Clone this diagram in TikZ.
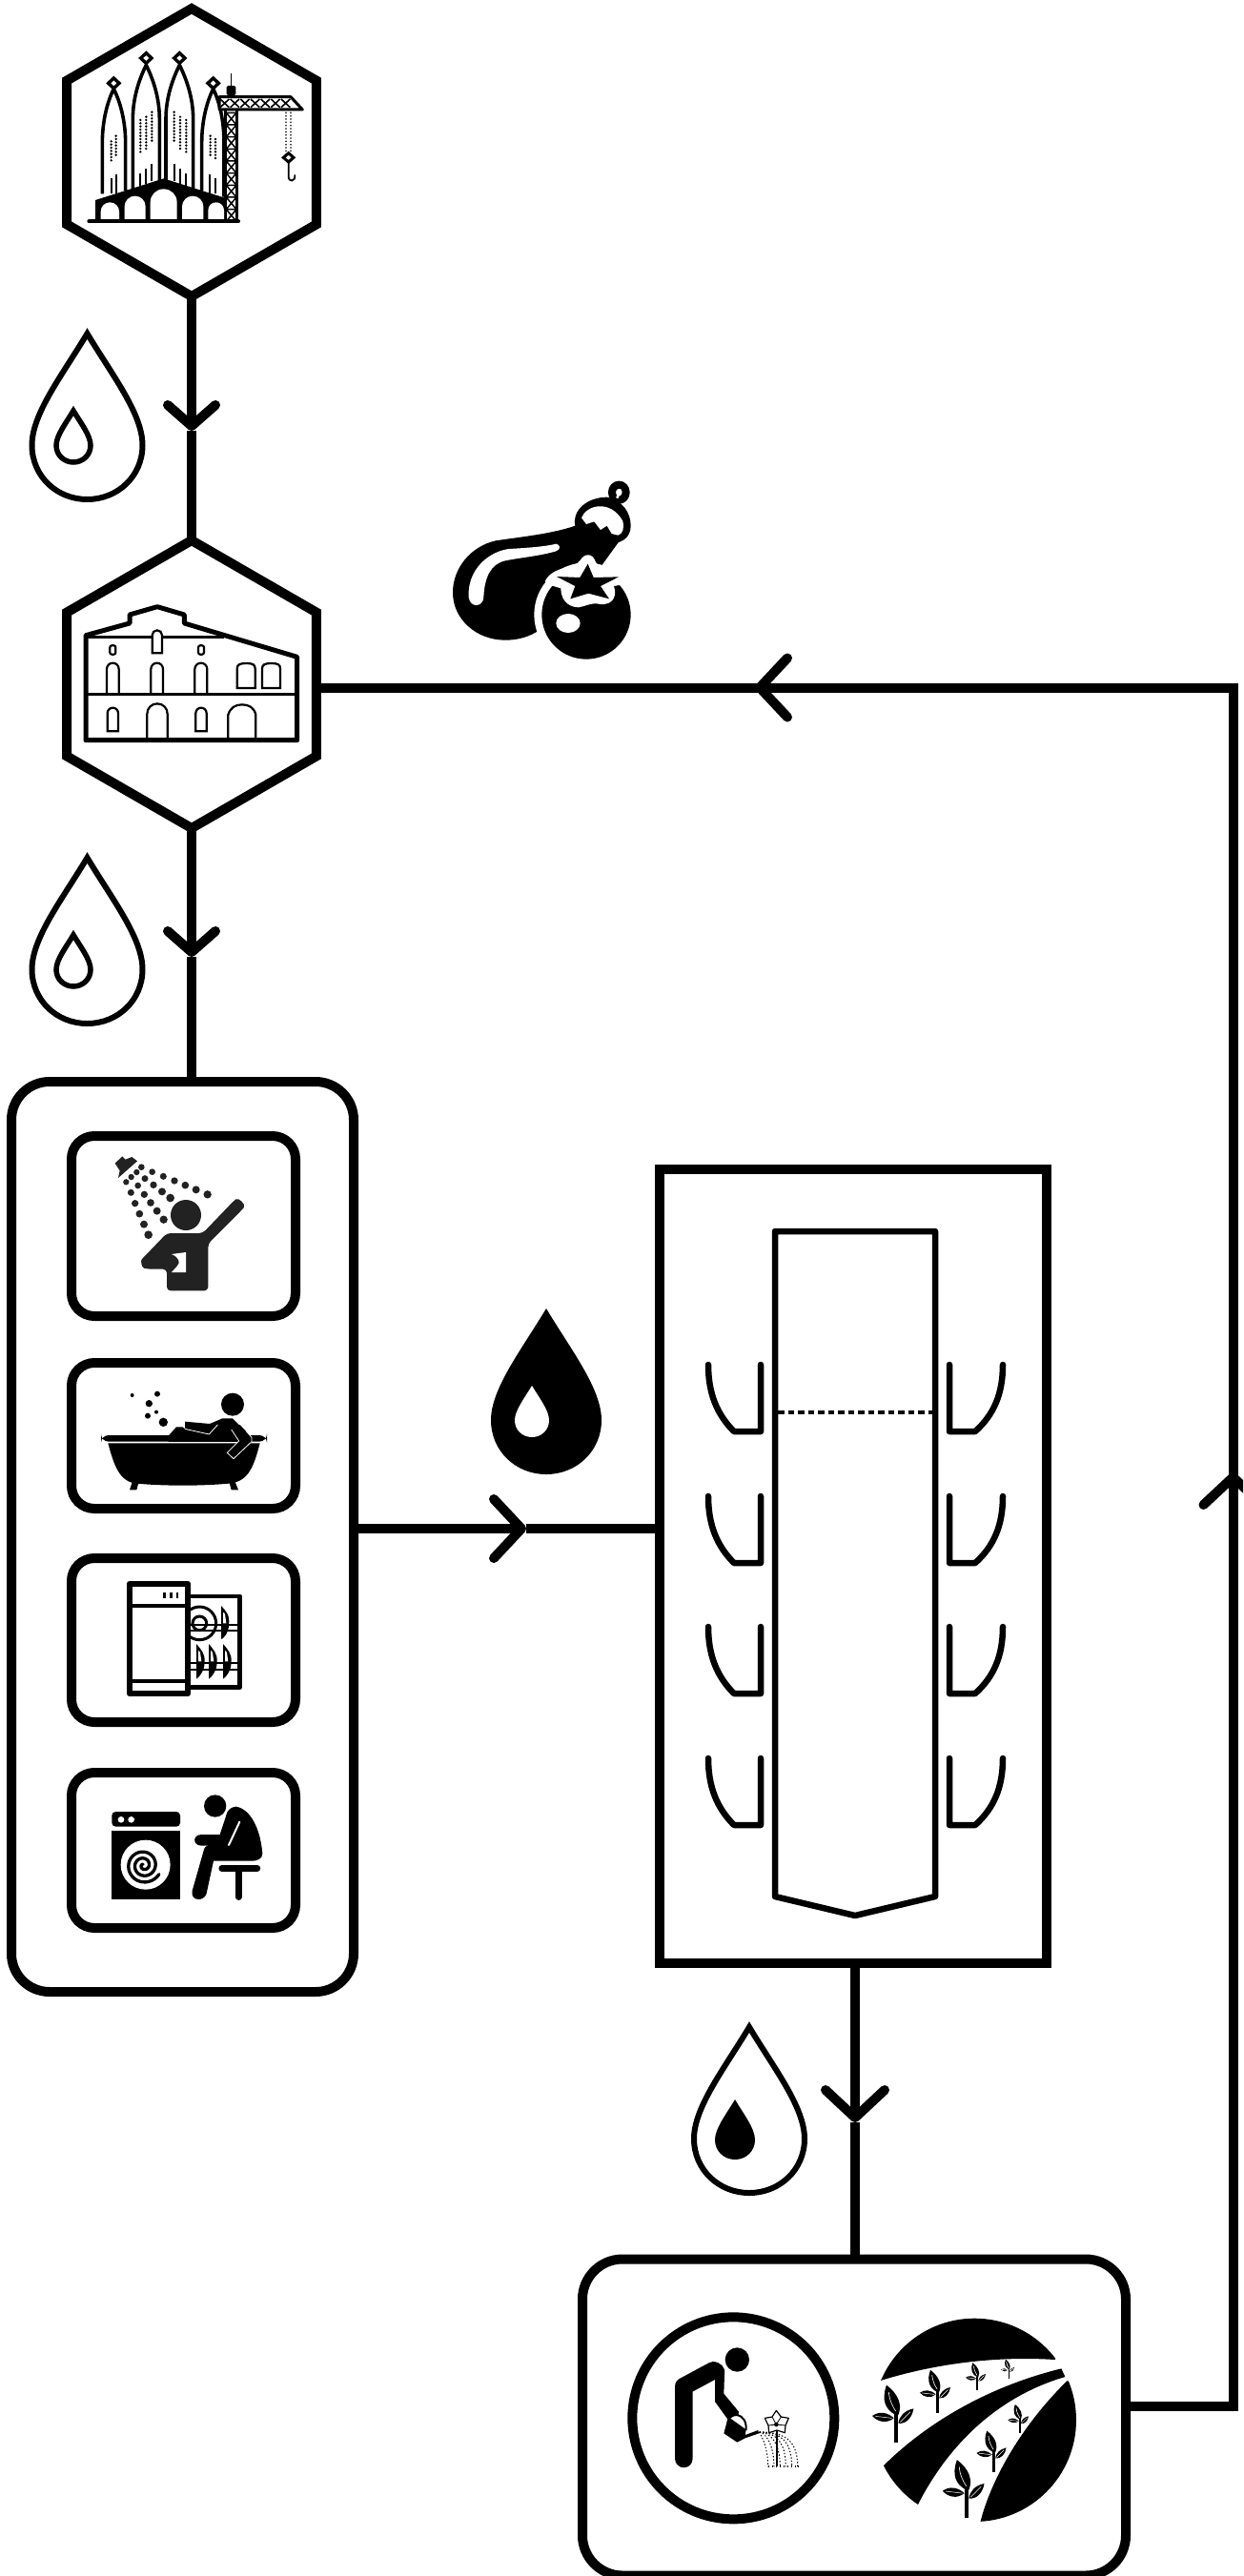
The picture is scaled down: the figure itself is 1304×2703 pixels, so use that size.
\documentclass[tikz,border=0pt]{standalone}
\usetikzlibrary{shapes.geometric,arrows.meta}
\definecolor{iconblack}{HTML}{222222}
\tikzset{
  hexnode/.style={regular polygon,regular polygon sides=6,shape border rotate=30,minimum size=302pt,draw,line width=10pt,inner sep=0pt,outer sep=0pt},
  boxnode/.style={rectangle,draw,line width=10pt,inner sep=0pt,outer sep=0pt},
  conn/.style={line width=10pt,draw=black},
  chevA/.style={conn,-{Straight Barb[length=22pt,width=50pt,line width=10pt,round]}},
  chevB/.style={conn,-{Straight Barb[length=29pt,width=62pt,line width=10pt,round]}},
  dropline/.style={draw=black,line width=6pt,line join=miter},
}
\newcommand\droppath[4][]{%
  \begin{scope}[shift={(#2,#3)},scale=#4]
    \path[#1] (0,0) .. controls (-0.45,0.75) and (-1,1.45) .. (-1,2.02)
      .. controls (-1,2.58) and (-0.55,3) .. (0,3)
      .. controls (0.55,3) and (1,2.58) .. (1,2.02)
      .. controls (1,1.45) and (0.45,0.75) .. (0,0) -- cycle;
  \end{scope}}
\newcommand\archd[5][]{%
  \draw[#1] (#2,#4) -- (#2,{#5+(#3-#2)/2}) .. controls (#2,{#5+.22*(#3-#2)}) and ({#2+.22*(#3-#2)},#5) .. ({(#2+#3)/2},#5)
    .. controls ({#3-.22*(#3-#2)},#5) and (#3,{#5+.22*(#3-#2)}) .. (#3,{#5+(#3-#2)/2}) -- (#3,#4);}
\newcommand\archc[5][]{%
  \draw[#1] (#2,#4) -- (#2,{#5+(#3-#2)/2}) .. controls (#2,{#5+.22*(#3-#2)}) and ({#2+.22*(#3-#2)},#5) .. ({(#2+#3)/2},#5)
    .. controls ({#3-.22*(#3-#2)},#5) and (#3,{#5+.22*(#3-#2)}) .. (#3,{#5+(#3-#2)/2}) -- (#3,#4) -- cycle;}
\newcommand\spire[7]{% xl xr apexx apexy ybaseL ybaseR ydiamond
  \draw[line width=3.6pt] (#1,#5) -- (#1,{#4+170}) .. controls (#1,{#4+100}) and ({#3-20},{#4+40}) .. (#3,#4)
    .. controls ({#3+20},{#4+40}) and (#2,{#4+100}) .. (#2,{#4+170}) -- (#2,#6);
  \draw[line width=3.4pt,fill=white] (#3,{#7-16}) -- ({#3+17},#7) -- (#3,{#7+16}) -- ({#3-17},#7) -- cycle;}
\newcommand\gridcol[4]{\foreach \yy in {#2,#3,...,#4}{\fill (#1,\yy) circle (4);}}
\newcommand\plant[3]{%
  \begin{scope}[shift={(#1,#2)},x=#3pt,y=-#3pt]
    \fill (-31,-182) .. controls (-48,-135) and (-35,-105) .. (-2,-88) -- (6,-88) .. controls (20,-120) and (5,-155) .. cycle;
    \draw[white,line width=0.6pt] (-24,-160) .. controls (-22,-135) and (-12,-115) .. (-2,-100);
    \fill (-76,-85) .. controls (-55,-100) and (-30,-98) .. (-8,-78) .. controls (-30,-60) and (-58,-65) .. cycle;
    \draw[white,line width=0.5pt] (-66,-84) -- (-14,-78);
    \fill (54,-108) .. controls (25,-102) and (10,-85) .. (6,-62) .. controls (30,-58) and (50,-80) .. cycle;
    \draw[white,line width=0.5pt] (44,-98) -- (12,-66);
    \fill (-6,-92) rectangle (6,0);
  \end{scope}}
\begin{document}
\begin{tikzpicture}[x=1pt,y=-1pt]
\useasboundingbox (0,0) rectangle (1304,2703);
\clip (0,0) rectangle (1304,2703);
\fill[white] (0,0) rectangle (1304,2703);

% main nodes
\node[hexnode] (hexA) at (201,160) {};
\node[hexnode] (hexB) at (201,718) {};
\node[boxnode,rounded corners=40pt,minimum width=359pt,minimum height=955pt] (leftbox) at (191.5,1612.5) {};
\node[boxnode,rounded corners=24pt,minimum width=235pt,minimum height=189pt] (boxShower) at (192.5,1286.5) {};
\node[boxnode,rounded corners=24pt,minimum width=235pt,minimum height=153pt] (boxBath) at (192.5,1506.5) {};
\node[boxnode,rounded corners=24pt,minimum width=235pt,minimum height=172pt] (boxDish) at (192.5,1721) {};
\node[boxnode,rounded corners=24pt,minimum width=235pt,minimum height=163pt] (boxWash) at (192.5,1941.5) {};
\node[boxnode,minimum width=406pt,minimum height=833pt] (tankbox) at (895,1643.5) {};
\node[boxnode,rounded corners=42pt,minimum width=570pt,minimum height=332pt] (reuse) at (896,2536.5) {};

% connector helpers
\coordinate (tipA) at (201,452);
\coordinate (tipB) at (201,1004);
\coordinate (yWater) at (0,1604);
\coordinate (tipC) at (552,1604);
\coordinate (xGrey) at (897,0);
\coordinate (tipD) at (897,2227);
\coordinate (outR) at (1293.5,2525);
\coordinate (tipE) at (1293.5,1545);
\coordinate (cornerR) at (1293.5,721.5);
\coordinate (tipF) at (792,721.5);

% connectors
\draw[chevA] (hexA.south) -- (tipA);
\draw[conn] (tipA) -- (hexB.north);
\draw[chevA] (hexB.south) -- (tipB);
\draw[conn] (tipB) -- (tipB |- leftbox.north);
\draw[chevB] (leftbox.east |- yWater) -- (tipC);
\draw[conn] (tipC) -- (tankbox.west |- yWater);
\draw[chevB] (xGrey |- tankbox.south) -- (tipD);
\draw[conn] (tipD) -- (xGrey |- reuse.north);
\draw[conn] (reuse.east |- outR) -- (outR) -- (tipE);
\draw[chevB] (outR) -- (tipE);
\draw[conn,line join=miter] (tipE) -- (cornerR) -- (tipF);
\draw[chevB] (cornerR) -- (tipF);
\draw[conn] (tipF) -- (hexB.east |- tipF);

% droplets
\droppath[dropline]{91.5}{350}{58}
\droppath[draw=black,line width=5.5pt]{77}{431}{18}
\droppath[dropline]{91.5}{900}{58}
\droppath[draw=black,line width=5.5pt]{77}{981}{18}
\droppath[fill=black]{573}{1373}{58}
\droppath[fill=white]{558}{1454}{18}
\droppath[dropline]{786}{2127}{58}
\droppath[fill=black]{771}{2203}{21}

% tank
\draw[line width=6.5pt,line join=round] (813,1292) -- (981,1292) -- (981,1990) -- (897,2010) -- (813,1990) -- cycle;
\draw[line width=3.5pt,dash pattern=on 6.5pt off 4pt] (816,1482) -- (978,1482);
\foreach \yy in {0,138,275,413}{
  \begin{scope}[shift={(0,\yy)}]
    \draw[line width=6.5pt,line cap=round,line join=round] (743,1432) .. controls (743,1462) and (752,1484) .. (770,1502) -- (798,1502) -- (798,1432);
    \draw[line width=6.5pt,line cap=round,line join=round] (1052,1432) .. controls (1052,1462) and (1043,1484) .. (1023,1502) -- (996,1502) -- (996,1432);
  \end{scope}}

% ---- Sagrada Familia
\begin{scope}[shift={(50,0)},scale=0.33333]
  \spire{172}{245}{208}{280}{610}{600}{262}
  \spire{268}{352}{310}{205}{595}{575}{183}
  \spire{372}{458}{415}{205}{575}{595}{183}
  \spire{485}{555}{521}{280}{600}{620}{262}
  \foreach \xx/\yy/\h in {200/560/50,215/548/62,292/545/45,310/530/50,328/515/55,398/515/55,417/530/50,435/545/45,511/548/62,527/560/50}
    \draw[line width=2pt] (\xx,\yy) -- (\xx,\yy+\h);
  \gridcol{200}{445}{455}{505}\gridcol{215}{428}{438}{495}
  \gridcol{292}{378}{388}{485}\gridcol{310}{368}{378}{468}\gridcol{328}{353}{363}{450}
  \gridcol{398}{353}{363}{450}\gridcol{417}{368}{378}{468}\gridcol{436}{378}{388}{485}
  \gridcol{512}{428}{438}{495}\gridcol{528}{438}{448}{505}
  \fill (150,630) -- (365,562) -- (580,630) -- (580,692) -- (150,692) -- cycle;
  \archd[fill=white,draw=none]{167}{225}{692}{637}
  \archd[fill=white,draw=none]{242}{308}{692}{617}
  \archd[fill=white,draw=none]{323}{407}{692}{595}
  \archd[fill=white,draw=none]{423}{490}{692}{617}
  \archd[fill=white,draw=none]{505}{555}{692}{637}
  \draw[line width=4pt,line cap=round] (130,697) -- (600,697);
  % mast
  \fill[white] (565,345) rectangle (592,690);
  \draw[line width=3pt] (560,345) -- (560,640);
  \draw[line width=3pt] (596,345) -- (596,697);
  \foreach \yy in {355,393,431,469,507,545,583,621,659}{
    \draw[line width=1.5pt] (562,\yy) -- (594,\yy+38) (594,\yy) -- (562,\yy+38) (562,\yy) -- (594,\yy);}
  % jib
  \draw[line width=3pt,line join=round,fill=white] (540,305) -- (765,305) -- (802,345) -- (540,345) -- cycle;
  \foreach \xx in {543,575,607,639,671,703,735}{
    \draw[line width=1.6pt] (\xx,312) -- (\xx+28,338) (\xx+28,312) -- (\xx,338);}
  \draw[line width=1.6pt] (578,232) -- (578,272);
  \fill[rounded corners=1.5pt] (563,300) -- (563,270) -- (592,270) -- (592,300) -- cycle;
  \foreach \yy in {355,365,...,480}{\fill (750,\yy) circle (2.6);\fill (765,\yy) circle (2.6);}
  \draw[line width=3pt,fill=white] (758,482) -- (774,496) -- (758,510) -- (742,496) -- cycle;
  \draw[line width=1.8pt,line cap=round] (758,510) -- (758,555) .. controls (758,575) and (780,572) .. (778,552);
\end{scope}

% ---- Masia
\begin{scope}[shift={(50,500)},scale=0.33333]
  \draw[line width=5pt,line join=round] (120,500) -- (258,462) -- (258,435) -- (345,410) -- (430,435) -- (430,462) -- (785,568) -- (785,830) -- (120,830) -- cycle;
  \draw[line width=2.8pt] (125,505) -- (555,505);
  \draw[line width=2.8pt] (125,685) -- (780,685);
  \draw[line width=2.2pt,line join=round,rounded corners=2pt] (196,532) rectangle (214,560);
  \draw[line width=2.2pt,line join=round,rounded corners=2pt] (474,532) rectangle (492,560);
  \archc[line width=2.2pt,fill=white]{329}{360}{556}{484}
  \archd[line width=2.2pt]{186}{224}{685}{587}
  \archd[line width=2.2pt]{325}{363}{685}{587}
  \archd[line width=2.2pt]{463}{502}{685}{587}
  \draw[line width=2.2pt] (596,666) -- (596,605) .. controls (596,592) and (605,588) .. (625,588) .. controls (645,588) and (653,592) .. (653,605) -- (653,666) -- cycle;
  \draw[line width=2.2pt] (675,666) -- (675,605) .. controls (675,592) and (684,588) .. (704,588) .. controls (724,588) and (732,592) .. (732,605) -- (732,666) -- cycle;
  \archc[line width=2.2pt]{188}{222}{802}{728}
  \archc[line width=2.2pt]{466}{500}{802}{728}
  \archd[line width=2.2pt]{313}{377}{825}{715}
  \draw[line width=2.2pt] (568,825) -- (568,750) .. controls (575,728) and (590,718) .. (612,718) .. controls (634,718) and (650,728) .. (655,750) -- (655,825);
\end{scope}

% ---- Eggplant and tomato
\begin{scope}[shift={(440,480)},scale=0.33333]
  \fill (490,215) .. controls (420,240) and (320,250) .. (240,262) .. controls (160,280) and (105,350) .. (105,425)
     .. controls (105,510) and (180,575) .. (270,575) .. controls (310,575) and (345,565) .. (375,545) -- (570,345) -- (630,262) -- (600,200) -- cycle;
  \fill[white] (155,440) .. controls (150,355) and (215,298) .. (280,288) .. controls (340,285) and (400,280) .. (430,272)
     .. controls (445,275) and (445,290) .. (430,295) .. controls (380,310) and (320,315) .. (270,325) .. controls (225,335) and (205,375) .. (202,440)
     .. controls (200,472) and (160,475) .. (155,440) -- cycle;
  \fill (490,215) .. controls (480,165) and (530,125) .. (590,125) .. controls (640,135) and (665,175) .. (665,215)
     .. controls (665,250) and (640,268) .. (610,270) -- (530,240) -- cycle;
  \fill[white] (510,190) .. controls (525,150) and (600,130) .. (640,200) .. controls (645,225) and (640,240) .. (625,245)
     -- (605,240) -- (590,215) -- (570,228) -- (550,202) -- (525,210) -- cycle;
  \draw[line width=8pt] (628,110) ellipse (22 and 24);
  \draw[white,line width=2.5pt] (632,100) -- (622,128);
  \fill[white] (525,495) circle (164);
  \fill (525,495) circle (140);
  \fill[white] (395,390) .. controls (420,340) and (490,350) .. (505,325) .. controls (520,300) and (545,300) .. (555,330)
    .. controls (570,360) and (630,350) .. (660,390) -- (640,400) -- (612,405) .. controls (625,445) and (600,465) .. (570,462)
    .. controls (540,455) and (520,470) .. (500,472) .. controls (460,470) and (445,440) .. (445,412) -- (415,403) -- cycle;
  \fill[line join=round] (530,335) -- (548,378) -- (627,376) -- (570,405) -- (597,445) -- (532,428) -- (475,445) -- (490,405) -- (432,375) -- (505,378) -- cycle;
  \fill[white] (468,522) ellipse (38 and 30);
\end{scope}

% ---- Shower
\begin{scope}[shift={(60,1180)},scale=0.33333,iconblack]
  \fill[iconblack] (405,285) circle (48);
  \fill[iconblack,rounded corners=4pt] (345,342) -- (458,342) -- (553,243) .. controls (570,228) and (595,252) .. (580,270) -- (475,375) -- (475,523) -- (345,523) -- (345,455) -- (285,455) .. controls (265,450) and (262,428) .. (275,415) -- cycle;
  \fill[white] (360,408) -- (405,402) -- (405,465) -- (360,465) -- (378,445) .. controls (388,435) and (385,418) .. (360,408) -- cycle;
  \fill[iconblack] (182,122) -- (205,100) -- (215,110) -- (235,102) -- (252,115) -- (192,168) -- (197,145) -- cycle;
  \foreach \xx/\yy/\rr in {265/134/10,299/149/10,334/163/10.5,369/177/11,403/191/11.5,437/205/12,473/220/12.5,
    250/150/9.5,276/170/10.5,303/190/11,330/211/12,356/231/13,
    233/165/9.5,254/192/10,274/220/11,294/246/11.5,314/272/12,335/299/12.5,
    217/181/9.5,232/214/10.5,245/248/11,259/281/11.5,273/314/12,287/347/13}
    \fill[iconblack] (\xx,\yy) circle (\rr);
\end{scope}

% ---- Bath
\begin{scope}[shift={(60,1180)},scale=0.33333]
  \fill (228,1150) -- (238,1120) -- (258,1120) -- (250,1150) -- cycle;
  \fill (570,1150) -- (558,1120) -- (540,1120) -- (548,1150) -- cycle;
  \fill (160,1003) -- (638,1003) .. controls (620,1070) and (605,1125) .. (540,1130) .. controls (450,1138) and (340,1138) .. (250,1130) .. controls (195,1125) and (178,1070) .. (160,1003) -- cycle;
  \fill[rounded corners=8pt] (138,998) -- (138,978) -- (660,978) -- (660,998) -- cycle;
  \fill (350,980) -- (375,952) -- (395,952) -- (402,958) -- (402,935) -- (480,942) -- (520,925) -- (552,925) -- (612,985) -- (612,1000) -- (350,1000) -- cycle;
  \draw[white,line width=0.8pt] (402,958) -- (478,975) -- (505,945);
  \draw[white,line width=0.8pt] (138,1000) -- (660,1000);
  \fill (548,978) -- (572,996) -- (535,1033) -- (555,1052) -- (612,1000) -- (612,985) -- (575,945) -- cycle;
  \draw[white,line width=0.8pt] (548,960) -- (572,996) -- (535,1033) -- (555,1052) -- (612,998) -- (612,985) -- (595,965);
  \fill (552,881) circle (36);
  \foreach \xx/\yy/\rr in {236/852/6,315/848/9,289/878/11,312/905/6,285/917/9,334/937/14}
    \fill (\xx,\yy) circle (\rr);
\end{scope}

% ---- Dishwasher
\begin{scope}[shift={(60,1620)},scale=0.33333]
  \draw[line width=4.6pt,line join=round] (412,165) -- (575,165) -- (575,452) -- (412,452);
  \draw[line width=3pt] (448,250) circle (52);
  \draw[line width=3pt] (448,250) circle (22);
  \foreach \xx in {522,446,485,530}{\ifnum\xx=522
      \fill (516,195) -- (516,300) .. controls (522,300) and (540,280) .. (540,255) .. controls (545,225) and (530,210) .. cycle;
      \fill[white] (522,215) -- (528,220) -- (532,250) -- (522,250) -- cycle;
    \else
      \fill (\xx-8,315) -- (\xx-8,425) .. controls (\xx,420) and (\xx+18,400) .. (\xx+18,372) .. controls (\xx+20,345) and (\xx+5,330) .. cycle;
      \fill[white] (\xx-2,335) -- (\xx+4,342) -- (\xx+8,370) -- (\xx-2,370) -- cycle;
    \fi}
  \foreach \yy in {255,272,375,395}{
    \draw[line width=2.2pt] (412,\yy) -- (570,\yy);}
  \draw[line width=6pt,line join=round,fill=white] (227,125) rectangle (412,472);
  \draw[line width=4pt] (227,195) -- (412,195);
  \draw[line width=4pt] (227,432) -- (412,432);
  \foreach \xx in {338,358,378}{\draw[line width=2.6pt] (\xx,153) -- (\xx,172);}
\end{scope}

% ---- Washing machine and person
\begin{scope}[shift={(60,1620)},scale=0.33333]
  \fill[rounded corners=4pt] (172,890) -- (172,843) -- (387,843) -- (387,890) -- cycle;
  \fill (172,903) rectangle (387,1120);
  \fill[white] (201,868) circle (10);
  \fill[white] (233,868) circle (10);
  \fill[white] (278,1010) circle (78);
  \draw[line width=3.3pt,line cap=round] plot[domain=70:1000,samples=90,smooth] ({272+0.056*\x*cos(1030-\x)},{1012+0.056*\x*sin(1030-\x)});
  \fill (497,825) circle (35);
  \fill (563,827) .. controls (610,835) and (640,900) .. (646,975) .. controls (646,990) and (630,998) .. (615,998) -- (492,998)
     -- (470,1100) .. controls (462,1128) and (418,1125) .. (425,1092) -- (462,962) .. controls (465,950) and (475,950) .. (480,950) -- (455,950) .. controls (425,950) and (425,915) .. (455,915) -- (512,915) -- (535,845) .. controls (540,835) and (550,828) .. (563,827) -- cycle;
  \draw[white,line width=2pt,line cap=round] (574,875) -- (540,948);
  \draw[line width=6.5pt,line cap=round] (518,1021) -- (630,1021);
  \draw[line width=6.5pt,line cap=round] (571,1021) -- (571,1112);
\end{scope}

% ---- Gardener
\begin{scope}[shift={(640,2400)},scale=0.33333]
  \draw[line width=10pt] (388,412) circle (318);
  \fill (400,228) circle (38);
  \draw[line width=18.5pt,line cap=round,line join=round] (232,540) -- (232,312) -- (325,262);
  \fill (325,235) .. controls (345,235) and (365,250) .. (360,275) -- (358,335) -- (405,392) -- (402,412) -- (372,418) -- (330,360) -- (330,290) -- cycle;
  \draw[line width=2pt,fill=white] (372,440) .. controls (365,410) and (385,402) .. (398,402) .. controls (420,405) and (430,425) .. (428,450);
  \fill (372,408) -- (428,448) -- (425,465) -- (466,450) -- (468,460) -- (425,475) -- (400,488) -- (358,460) -- cycle;
  \foreach \xx in {497,516,535,553,572,590}{
    \draw[line width=1pt,dash pattern=on 1.4pt off 2pt,black] (470,456) .. controls ({\xx-30},456) and (\xx,490) .. (\xx,565);}
  \foreach \xx in {497,509,521,533,545,557,569,581,590}{\fill (\xx,566) rectangle +(5,-6);}
  \draw[line width=2pt] (525,450) -- (525,565);
  \draw[line width=1.2pt,line join=round,fill=white] (523,388) -- (538,408) -- (562,412) -- (552,435) -- (550,458) -- (525,450) -- (500,458) -- (498,435) -- (487,412) -- (510,408) -- cycle;
  \fill (523,432) circle (7);
  \draw[line width=0.8pt] (523,432) -- (538,408) (523,432) -- (510,408) (523,432) -- (552,435) (523,432) -- (498,435);
\end{scope}

% ---- Field
\begin{scope}[shift={(640,2400)},scale=0.33333]
  \begin{scope}
    \clip (1147,418) circle (320);
    \fill (800,310) -- (832,300) .. controls (1000,245) and (1200,215) .. (1400,228) -- (1500,50) -- (800,50) -- cycle;
    \fill (830,555) -- (850,572) .. controls (1000,420) and (1200,310) .. (1420,256) -- (1432,282) .. controls (1200,350) and (1050,520) .. (965,692) -- (830,720) -- cycle;
    \fill (1438,295) .. controls (1300,430) and (1200,600) .. (1165,740) -- (1165,800) -- (1520,800) -- (1520,295) -- cycle;
  \end{scope}
  \plant{901}{490}{1}
  \plant{1031}{395}{0.74}
  \plant{1156}{325}{0.48}
  \plant{1255}{287}{0.33}
  \plant{1290}{460}{0.5}
  \plant{1208}{583}{0.72}
  \plant{1123}{727}{1.01}
\end{scope}
\end{tikzpicture}
\end{document}
